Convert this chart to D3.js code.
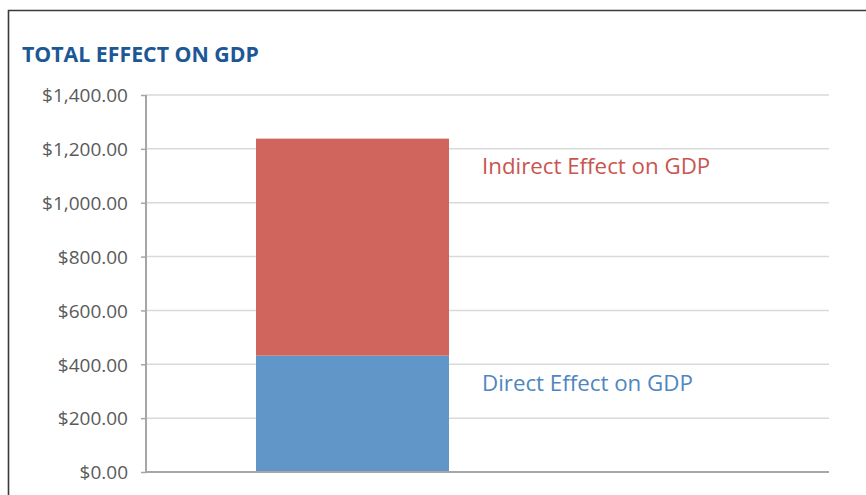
<!DOCTYPE html>
<html>
<head>
<meta charset="utf-8">
<script src="https://cdn.jsdelivr.net/npm/d3@7"></script>
<style>
  html, body { margin: 0; padding: 0; background: #fff; }
  svg { display: block; }
</style>
</head>
<body>
<div id="chart"></div>
<script>
// chart data
var categories = ["Total Effect on GDP"];
var seriesNames = ["Direct Effect on GDP", "Indirect Effect on GDP"];
var directEffect = [432];
var indirectEffect = [806];
var yTicks = [0, 200, 400, 600, 800, 1000, 1200, 1400];

var seriesColors = ["#6096c8", "#d0655e"];
var labelColors = ["#4f86bf", "#c9554f"];

var width = 866, height = 495;
var margin = { top: 95, right: 37, bottom: 23, left: 146 };

var rows = categories.map(function(c, i) {
    return { category: c, direct: directEffect[i], indirect: indirectEffect[i] };
});

var stacked = d3.stack().keys(["direct", "indirect"])(rows);

var svg = d3.select("#chart").append("svg")
    .attr("width", width)
    .attr("height", height);

// frame lines (top and left)
svg.append("path")
    .attr("d", "M8.5,495 V10.5 H866")
    .attr("fill", "none")
    .attr("stroke", "#3a3a3a")
    .attr("stroke-width", 1.6);

svg.append("text")
    .attr("x", 22)
    .attr("y", 62)
    .attr("fill", "#1c5796")
    .style("font-family", "'Open Sans', sans-serif")
    .style("font-weight", "700")
    .style("font-size", "21.3px")
    .text("TOTAL EFFECT ON GDP");

var yScale = d3.scaleLinear()
    .domain([0, 1400])
    .range([height - margin.bottom, margin.top]);

var xScale = d3.scaleBand()
    .domain(categories)
    .range([256, 449])
    .padding(0);

var plotRight = width - margin.right;

// gridlines
svg.append("g")
    .selectAll("line")
    .data(yTicks.filter(function(t) { return t > 0; }))
    .enter()
    .append("line")
    .attr("x1", margin.left)
    .attr("x2", plotRight)
    .attr("y1", function(d) { return yScale(d); })
    .attr("y2", function(d) { return yScale(d); })
    .attr("stroke", "#d9d9d9")
    .attr("stroke-width", 1.5);

// stacked bar
svg.append("g")
    .selectAll("g")
    .data(stacked)
    .enter()
    .append("g")
    .attr("fill", function(d, i) { return seriesColors[i]; })
    .selectAll("rect")
    .data(function(d) { return d; })
    .enter()
    .append("rect")
    .attr("x", function(d) { return xScale(d.data.category); })
    .attr("width", xScale.bandwidth())
    .attr("y", function(d) { return yScale(d[1]); })
    .attr("height", function(d) { return yScale(d[0]) - yScale(d[1]); });

// y axis
var yAxis = svg.append("g")
    .attr("transform", "translate(" + margin.left + ",0)")
    .call(d3.axisLeft(yScale)
        .tickValues(yTicks)
        .tickFormat(d3.format("$,.2f"))
        .tickSize(5)
        .tickPadding(13));

yAxis.select(".domain")
    .attr("stroke", "#a6a6a6")
    .attr("stroke-width", 2)
    .attr("d", "M0," + yScale(0) + "V" + yScale(1400));
yAxis.selectAll(".tick line")
    .attr("stroke", "#a6a6a6")
    .attr("stroke-width", 1.5);
yAxis.selectAll(".tick text")
    .attr("fill", "#5a5a5a")
    .attr("dy", "0.36em")
    .style("font-family", "'Open Sans', sans-serif")
    .style("font-size", "19px");

// x axis baseline
svg.append("line")
    .attr("x1", margin.left)
    .attr("x2", plotRight)
    .attr("y1", yScale(0))
    .attr("y2", yScale(0))
    .attr("stroke", "#a6a6a6")
    .attr("stroke-width", 2);

// series labels beside the bar
svg.append("g")
    .selectAll("text")
    .data(stacked)
    .enter()
    .append("text")
    .attr("x", 482)
    .attr("y", function(d) { return yScale(d[0][1]) + 35; })
    .attr("fill", function(d, i) { return labelColors[i]; })
    .style("font-family", "'Open Sans', sans-serif")
    .style("font-size", "22.3px")
    .text(function(d, i) { return seriesNames[i]; });
</script>
</body>
</html>
